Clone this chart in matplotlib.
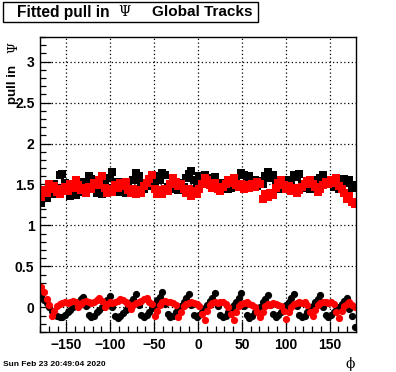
import numpy as np
import matplotlib
matplotlib.use("Agg")
import matplotlib.pyplot as plt
from matplotlib.ticker import MultipleLocator
from matplotlib.patches import Rectangle

# phi bin centres (3 degree bins)
phi = np.arange(-178.5, 180.0, 3.0)

black_lower = [
    0.14, 0.09, 0.05, 0.00, -0.04, -0.08, -0.11, -0.12, -0.12, -0.09,
    -0.06, -0.03, 0.00, 0.04, 0.07, 0.10, 0.13,
    0.02, -0.09, -0.12, -0.10, -0.06, -0.03, 0.01, 0.05, 0.09, 0.14,
    0.01, -0.10, -0.13, -0.10, -0.07, -0.03, 0.02, 0.06, 0.10, 0.16,
    0.03, -0.09, -0.12, -0.09, -0.05, -0.01, 0.04, 0.09, 0.13, 0.19,
    0.04, -0.08, -0.12, -0.10, -0.06, -0.02, 0.02, 0.06, 0.11, 0.16,
    0.03, -0.09, -0.12, -0.09, -0.05, -0.01, 0.03, 0.08, 0.12, 0.17,
    0.02, -0.09, -0.12, -0.10, -0.06, -0.02, 0.03, 0.07, 0.12, 0.17,
    0.02, -0.09, -0.13, -0.10, -0.06, -0.03, 0.01, 0.06, 0.10, 0.15,
    0.03, -0.08, -0.12, -0.09, -0.05, -0.01, 0.03, 0.07, 0.11, 0.16,
    0.02, -0.09, -0.12, -0.10, -0.06, -0.02, 0.02, 0.06, 0.10, 0.15,
    0.01, -0.09, -0.12, -0.09, -0.06, -0.03, 0.01, 0.04, 0.08, 0.11,
    -0.02, -0.10, -0.24,
]

red_lower = [
    0.25, 0.19, 0.10, 0.03, -0.10, -0.04, 0.02, 0.04, 0.05, 0.06,
    0.05, 0.07, 0.08, 0.06, 0.01, 0.04, 0.06, 0.08, 0.07, 0.05,
    0.07, 0.09, 0.11, 0.08, 0.00, 0.04, 0.06, 0.05, 0.07, 0.08,
    0.10, 0.09, 0.07, 0.04, -0.02, 0.03, 0.05, 0.07, 0.08, 0.10,
    0.11, 0.07, 0.04, -0.10, -0.04, 0.03, 0.06, 0.08, 0.07, 0.06,
    0.05, 0.03, -0.12, -0.05, 0.02, 0.04, 0.05, 0.06, 0.05, 0.04,
    0.02, -0.08, -0.15, -0.04, 0.03, 0.05, 0.06, 0.05, 0.07, 0.06,
    0.04, 0.01, -0.08, -0.15, -0.06, 0.02, 0.04, 0.05, 0.06, 0.04,
    0.03, 0.01, -0.06, -0.12, -0.05, 0.02, 0.04, 0.03, 0.05, 0.04,
    0.03, 0.02, -0.04, -0.14, -0.06, 0.01, 0.04, 0.05, 0.06, 0.05,
    0.06, 0.03, -0.05, -0.10, -0.03, 0.03, 0.05, 0.06, 0.07, 0.05,
    0.06, 0.04, -0.06, -0.13, -0.04, 0.02, 0.04, 0.06, 0.03, 0.00,
]

black_upper = [
    1.28, 1.36, 1.33, 1.42, 1.38, 1.50, 1.46, 1.61, 1.63, 1.52,
    1.44, 1.36, 1.40, 1.37, 1.46, 1.41, 1.53, 1.49, 1.60, 1.57,
    1.47, 1.40, 1.44, 1.39, 1.50, 1.46, 1.58, 1.65, 1.46, 1.53,
    1.41, 1.45, 1.40, 1.47, 1.42, 1.55, 1.64, 1.60, 1.50, 1.44,
    1.52, 1.48, 1.55, 1.49, 1.60, 1.56, 1.64, 1.62, 1.47, 1.51,
    1.44, 1.49, 1.43, 1.52, 1.47, 1.58, 1.63, 1.66, 1.55, 1.49,
    1.60, 1.56, 1.62, 1.52, 1.58, 1.53, 1.59, 1.48, 1.52, 1.44,
    1.49, 1.44, 1.46, 1.51, 1.55, 1.50, 1.64, 1.62, 1.57, 1.60,
    1.53, 1.56, 1.48, 1.54, 1.50, 1.60, 1.65, 1.58, 1.62, 1.52,
    1.48, 1.45, 1.52, 1.47, 1.56, 1.52, 1.61, 1.59, 1.63, 1.50,
    1.46, 1.52, 1.45, 1.49, 1.55, 1.50, 1.58, 1.61, 1.56, 1.51,
    1.54, 1.47, 1.50, 1.44, 1.53, 1.57, 1.52, 1.55, 1.46, 1.49,
]

red_upper = [
    1.35, 1.43, 1.40, 1.50, 1.45, 1.48, 1.41, 1.38, 1.44, 1.47,
    1.42, 1.50, 1.46, 1.56, 1.49, 1.43, 1.46, 1.40, 1.47, 1.44,
    1.52, 1.49, 1.56, 1.60, 1.46, 1.40, 1.44, 1.41, 1.49, 1.46,
    1.52, 1.48, 1.53, 1.43, 1.40, 1.45, 1.39, 1.43, 1.40, 1.48,
    1.52, 1.57, 1.62, 1.45, 1.38, 1.43, 1.39, 1.45, 1.42, 1.50,
    1.58, 1.53, 1.48, 1.51, 1.44, 1.40, 1.45, 1.36, 1.42, 1.39,
    1.45, 1.51, 1.58, 1.55, 1.49, 1.46, 1.52, 1.44, 1.42, 1.47,
    1.50, 1.55, 1.52, 1.58, 1.49, 1.47, 1.51, 1.45, 1.49, 1.46,
    1.50, 1.47, 1.53, 1.50, 1.32, 1.38, 1.35, 1.40, 1.37, 1.46,
    1.52, 1.56, 1.49, 1.45, 1.48, 1.42, 1.46, 1.40, 1.43, 1.47,
    1.50, 1.54, 1.56, 1.51, 1.47, 1.41, 1.45, 1.49, 1.53, 1.50,
    1.55, 1.52, 1.58, 1.48, 1.44, 1.40, 1.32, 1.36, 1.29, 1.26,
]

W, H = 396, 372
fig = plt.figure(figsize=(W / 100, H / 100), dpi=100)
fig.patch.set_facecolor("white")

def fx(x):
    return x / W

def fy(y):
    return 1 - y / H

L, R, T, B = 40, 356, 37, 332
ax = fig.add_axes([fx(L), fy(B), (R - L) / W, (B - T) / H])

ms = 5.2
ax.plot(phi, black_upper, ls="none", marker="s", ms=ms, mew=0, color="black")
ax.plot(phi, black_lower, ls="none", marker="o", ms=ms, mew=0, color="black")
ax.plot(phi, red_upper, ls="none", marker="s", ms=ms, mew=0, color="#ff0000")
ax.plot(phi, red_lower, ls="none", marker="o", ms=ms, mew=0, color="#ff0000")

ax.set_xlim(-180, 180)
ax.set_ylim(-0.3, 3.3)
ax.xaxis.set_major_locator(MultipleLocator(50))
ax.xaxis.set_minor_locator(MultipleLocator(10))
ax.yaxis.set_major_locator(MultipleLocator(0.5))
ax.yaxis.set_minor_locator(MultipleLocator(0.1))
ax.grid(True, which="major", color="black", linestyle=(0, (1, 2)), linewidth=0.9)
ax.tick_params(which="both", direction="in", top=False, right=False, colors="black")
ax.tick_params(which="major", length=8, width=0.9, pad=4)
ax.tick_params(which="minor", length=4, width=0.9)
for s in ax.spines.values():
    s.set_linewidth(1.0)
    s.set_color("black")

tickfont = dict(family="Liberation Sans", weight="bold", size=10)
ax.set_xticks([-150, -100, -50, 0, 50, 100, 150])
ax.set_xticklabels(["\u2212150", "\u2212100", "\u221250", "0", "50", "100", "150"], **tickfont)
ax.set_yticks([0, 0.5, 1, 1.5, 2, 2.5, 3])
ax.set_yticklabels(["0", "0.5", "1", "1.5", "2", "2.5", "3"], **tickfont)

# title box
fig.patches.append(Rectangle((fx(3), fy(22)), fx(255), 20 / H, transform=fig.transFigure,
                             facecolor="white", edgecolor="black", linewidth=1.0))
fig.text(fx(17), fy(12), "Fitted pull in", family="Liberation Sans", weight="bold",
         size=11.2, va="center", ha="left")
fig.text(fx(124), fy(12), "\u03a8", family="DejaVu Serif", size=10, va="center", ha="center")
fig.text(fx(152), fy(12), "Global Tracks", family="Liberation Sans", weight="bold",
         size=11, va="center", ha="left")

# y label
fig.text(fx(13), fy(84), "pull in", family="Liberation Sans", weight="bold", size=9.5,
         rotation=90, va="center", ha="center")
fig.text(fx(14), fy(48), "\u03a8", family="DejaVu Serif", size=9, rotation=90,
         va="center", ha="center")

# x label
fig.text(fx(350), fy(364), "\u03d5", family="DejaVu Serif", size=10, va="center", ha="center")

# date stamp
fig.text(fx(3), fy(364), "Sun Feb 23 20:49:04 2020", family="Liberation Sans",
         weight="bold", size=6, va="center", ha="left")

fig.savefig("out.png", dpi=100, facecolor="white")
